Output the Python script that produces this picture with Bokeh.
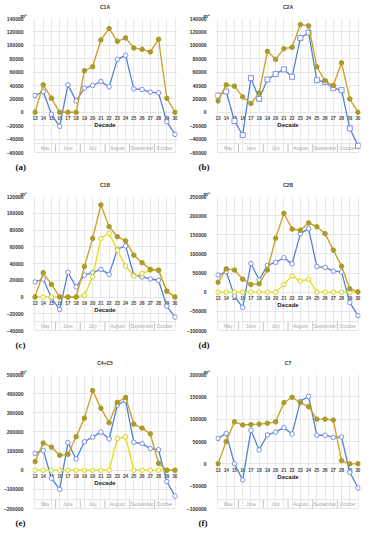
from bokeh.plotting import figure
from bokeh.models import Range1d, FixedTicker, Grid, BasicTickFormatter, Title
from bokeh.layouts import gridplot
from bokeh.embed import file_html
from bokeh.resources import INLINE
from bokeh.core.properties import value

decades = [13, 14, 15, 16, 17, 18, 19, 20, 21, 22, 23, 24, 25, 26, 27, 28, 29, 30]
decade_labels = [str(d) for d in decades]
month_names = ["May", "June", "July", "August", "September", "October"]
month_first = [13, 16, 19, 22, 25, 28]
month_last = [15, 18, 21, 24, 27, 30]

c1a_gold = [0, 41000, 21000, 0, 0, 0, 62000, 68000, 108000, 125000, 106000, 111000, 96000, 94000, 90000, 109000, 21000, 0]
c1a_blue = [25000, 31000, -3000, -21000, 41000, 17000, 36000, 40000, 46000, 38000, 79000, 85000, 35000, 34000, 30000, 29000, -14000, -33000]

c2a_gold = [17000, 41000, 39000, 23000, 13000, 29000, 91000, 79000, 95000, 97000, 131000, 129000, 68000, 47000, 40000, 74000, 20000, 0]
c2a_blue = [25000, 31000, -13000, -34000, 51000, 20000, 49000, 57000, 64000, 53000, 111000, 119000, 48000, 45000, 36000, 33000, -24000, -50000]

c1b_gold = [0, 29000, 15000, 0, 0, 0, 36500, 70000, 110000, 84000, 72000, 67000, 50000, 41000, 33000, 32000, 7000, 0]
c1b_yellow = [0, 0, 0, 0, 0, 0, 2000, 24000, 70000, 76000, 56000, 37000, 25000, 28000, 32000, 32000, 7000, 0]
c1b_blue = [18000, 21500, -1000, -15000, 29500, 12000, 26000, 29000, 33000, 27000, 57000, 61000, 26000, 24000, 21500, 20000, -11000, -24000]

c2b_gold = [26000, 61000, 58000, 34000, 20000, 22000, 58000, 141000, 206000, 165000, 162000, 181000, 171000, 153000, 110000, 68000, 9000, 1000]
c2b_yellow = [0, 0, 0, 0, 0, 0, 0, 0, 20000, 43000, 29000, 34000, 0, 0, 0, 0, 0, 0]
c2b_blue = [45000, 54000, -10000, -40000, 75000, 32000, 70000, 78000, 90000, 74000, 153000, 166000, 67000, 65000, 55000, 53000, -27000, -61000]

c45_gold = [45000, 142000, 121000, 78000, 83000, 175000, 272000, 416000, 324000, 248000, 355000, 380000, 241000, 220000, 190000, 36000, 0, 0]
c45_yellow = [0, 0, 0, 0, 0, 0, 0, 0, 0, 0, 166000, 175000, 0, 0, 0, 0, 0, 0]
c45_blue = [88000, 104000, -42000, -100000, 144000, 59000, 149000, 173000, 199000, 163000, 340000, 364000, 146000, 139000, 113000, 107000, -59000, -135000]

c7_gold = [0, 50000, 94000, 87000, 88000, 89000, 91000, 94000, 137000, 149000, 137000, 128000, 100000, 100000, 98000, 7000, 0, 0]
c7_blue = [57000, 68000, 0, -36000, 75000, 31000, 65000, 71000, 81000, 67000, 140000, 151000, 64000, 64000, 59000, 60000, -19000, -54000]

panels = [
    ("C1A", "(a)", c1a_gold, c1a_blue, None, -60000, 140000, 20000, "circle"),
    ("C2A", "(b)", c2a_gold, c2a_blue, None, -60000, 140000, 20000, "square"),
    ("C1B", "(c)", c1b_gold, c1b_blue, c1b_yellow, -40000, 120000, 20000, "circle"),
    ("C2B", "(d)", c2b_gold, c2b_blue, c2b_yellow, -100000, 250000, 50000, "circle"),
    ("C4+C5", "(e)", c45_gold, c45_blue, c45_yellow, -200000, 500000, 100000, "circle"),
    ("C7", "(f)", c7_gold, c7_blue, None, -100000, 200000, 50000, "circle"),
]

GOLD = "#D0A22C"
GOLD_FILL = "#A99A2C"
BLUE = "#4F83D6"
BLUE_MK = "#7A8FE6"
YELLOW = "#E6E02A"
YELLOW_MK = "#D6D230"
SANS = "Liberation Sans"


def make_panel(title, letter, gold, blue, yellow, ymin, ymax, step, blue_marker):
    p = figure(width=183, height=178, output_backend="svg", toolbar_location=None,
               x_range=Range1d(decades[0] - 0.3, decades[-1] + 0.3),
               y_range=Range1d(ymin, ymax), x_axis_location=None,
               min_border_left=20, min_border_right=6, min_border_top=4, min_border_bottom=4)
    p.outline_line_color = None
    p.background_fill_color = "white"
    p.border_fill_color = "white"

    p.title.text = title
    p.title.align = "center"
    p.title.text_font = SANS
    p.title.text_font_size = "5px"
    p.title.text_font_style = "bold"
    p.title.text_color = "#333333"
    p.title.standoff = 2
    p.add_layout(Title(text="m³", align="left", offset=-12, text_font=SANS,
                       text_font_size="5px", text_font_style="bold",
                       text_color="#333333", standoff=0), "above")
    p.add_layout(Title(text=letter, align="left", offset=-17, text_font="Liberation Serif",
                       text_font_size="9px", text_font_style="bold",
                       text_color="#111111", standoff=14), "below")

    p.add_layout(Grid(dimension=0, ticker=FixedTicker(ticks=decades),
                      grid_line_color="#e8e8e8", grid_line_width=1))
    p.yaxis.ticker = FixedTicker(ticks=list(range(ymin, ymax + 1, step)))
    p.yaxis.formatter = BasicTickFormatter(use_scientific=False)
    p.yaxis.axis_line_color = None
    p.yaxis.major_tick_line_color = None
    p.yaxis.minor_tick_line_color = None
    p.yaxis.major_label_text_font_size = "5px"
    p.yaxis.major_label_text_font_style = "bold"
    p.yaxis.major_label_text_font = SANS
    p.yaxis.major_label_text_color = "#333333"
    p.yaxis.major_label_standoff = 3
    p.ygrid.grid_line_color = "#e6e6e6"

    # month band at the bottom of the frame
    h = (ymax - ymin) * 0.066
    bounds = [(month_last[i] + month_first[i + 1]) / 2 for i in range(len(month_names) - 1)]
    lefts = [decades[0]] + bounds
    rights = bounds + [decades[-1]]
    centers = [(a + b) / 2 for a, b in zip(lefts, rights)]
    p.segment(x0=bounds, y0=[ymin] * len(bounds), x1=bounds, y1=[ymin + h] * len(bounds),
              line_color="#c4c4c4", line_width=1)
    p.segment(x0=[decades[0]], y0=[ymin + h], x1=[decades[-1]], y1=[ymin + h],
              line_color="#e2e2e2", line_width=1)
    p.segment(x0=[decades[0]], y0=[ymin], x1=[decades[-1]], y1=[ymin],
              line_color="#c8c8c8", line_width=1)
    p.text(x=centers, y=[ymin + h / 2] * len(centers), text=month_names,
           text_align="center", text_baseline="middle", text_font=value(SANS),
           text_font_size="4.6px", text_color="#a8a8a8")

    # x tick labels at zero and axis title
    p.text(x=decades, y=[0] * len(decades), text=decade_labels, y_offset=6,
           text_align="center", text_baseline="middle", text_font=value(SANS),
           text_font_size="4.6px", text_font_style="bold", text_color="#444444")
    p.text(x=[(decades[0] + decades[-1]) / 2], y=[0], text=["Decade"], y_offset=13,
           text_align="center", text_baseline="middle", text_font=value(SANS),
           text_font_size="6px", text_font_style="bold", text_color="#222222")

    # series
    p.line(decades, blue, line_color=BLUE, line_width=1.3)
    p.scatter(decades, blue, marker=blue_marker, size=4.5 if blue_marker == "circle" else 5,
              fill_color="white", line_color=BLUE_MK, line_width=1)
    if yellow is not None:
        p.line(decades, yellow, line_color=YELLOW, line_width=1.5)
        p.scatter(decades, yellow, marker="circle", size=4.5, fill_color="#fbfbe0",
                  line_color=YELLOW_MK, line_width=1)
    p.line(decades, gold, line_color=GOLD, line_width=1.4)
    p.scatter(decades, gold, marker="circle", size=4.5, fill_color=GOLD_FILL,
              line_color=GOLD_FILL, line_width=1)
    return p


figs = [make_panel(*cfg) for cfg in panels]
grid = gridplot([[figs[0], figs[1]], [figs[2], figs[3]], [figs[4], figs[5]]],
                toolbar_location=None)

open("out.html", "w").write(file_html(grid, INLINE))
